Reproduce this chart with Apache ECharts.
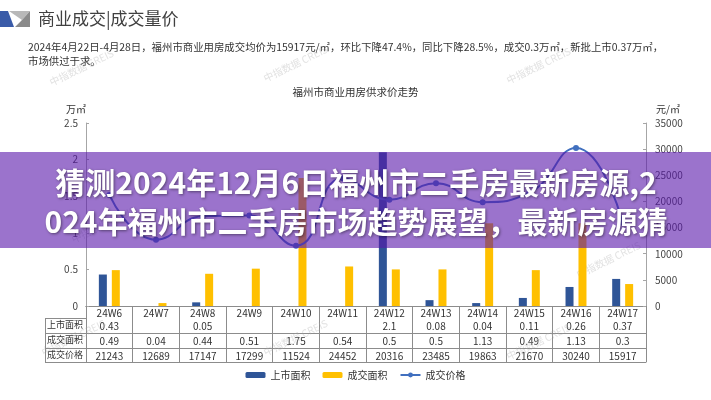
<!DOCTYPE html>
<html><head><meta charset="utf-8">
<script src="https://cdn.jsdelivr.net/npm/echarts@6/dist/echarts.min.js"></script>
<style>html,body{margin:0;padding:0;background:#fff}#c{width:711px;height:400px}</style>
</head><body><div id="c"></div>
<script>
var categories = ['24W6','24W7','24W8','24W9','24W10','24W11','24W12','24W13','24W14','24W15','24W16','24W17'];
var listedArea = [0.43, null, 0.05, null, null, null, 2.1, 0.08, 0.04, 0.11, 0.26, 0.37];
var dealArea = [0.49, 0.04, 0.44, 0.51, 1.75, 0.54, 0.5, 0.5, 1.13, 0.49, 1.13, 0.3];
var dealPrice = [21243, 12689, 17147, 17299, 11524, 24452, 20316, 23485, 19863, 21670, 30240, 15917];
var leftTicks = [0, 0.5, 1, 1.5, 2, 2.5];
var rightTicks = [0, 5000, 10000, 15000, 20000, 25000, 30000, 35000];
var seriesNames = ['上市面积', '成交面积', '成交价格'];

var FONT = '"Noto Sans CJK SC", "Noto Sans", sans-serif';
var lineC = '#8c8c8c';
var chart = echarts.init(document.getElementById('c'), null, {renderer: 'canvas'});

function rowAxis(offset, arr, showLabel) {
  return {
    type: 'category', data: categories, position: 'bottom', offset: offset, gridIndex: 0,
    axisLine: {show: true, lineStyle: {color: lineC, width: 1}},
    axisTick: {show: false},
    axisLabel: {show: showLabel, interval: 0, margin: 3, fontSize: 10, color: '#333', fontFamily: FONT,
      formatter: function (v, i) { var x = arr ? arr[i] : null; return (x === null || x === undefined) ? '' : String(x); }},
    splitLine: {show: false}
  };
}

var wm = [];
[[48,48],[262,44],[505,46],[40,318],[262,318],[505,322],[70,205],[575,240]].forEach(function (p) {
  wm.push({type: 'text', left: p[0], top: p[1], rotation: 0.45, z: 1, silent: true,
    style: {text: '中指数据 CREIS', fill: 'rgba(170,170,170,0.35)', font: '10px ' + FONT}});
});

var option = {
  animation: false,
  textStyle: {fontFamily: FONT},
  title: {text: '福州市商业用房供求价走势', left: 'center', top: 82,
    textStyle: {fontSize: 10.5, fontWeight: 'normal', color: '#333', fontFamily: FONT}},
  legend: {
    data: seriesNames, bottom: 15, left: 'center', itemWidth: 20, itemHeight: 6, itemGap: 12,
    textStyle: {fontSize: 10, color: '#333', fontFamily: FONT}
  },
  grid: {left: 86, right: 65, top: 123, bottom: 94},
  xAxis: [
    {
      type: 'category', data: categories, position: 'bottom', gridIndex: 0,
      axisLine: {show: true, lineStyle: {color: lineC, width: 1}},
      axisTick: {show: true, interval: 0, alignWithLabel: false, length: 56, lineStyle: {color: lineC, width: 1}},
      axisLabel: {interval: 0, margin: 2, fontSize: 10, color: '#333', fontFamily: FONT},
      splitLine: {show: false}
    },
    rowAxis(12, listedArea, true),
    rowAxis(27, dealArea, true),
    rowAxis(42, dealPrice, true),
    rowAxis(56, null, false)
  ],
  yAxis: [
    {
      type: 'value', min: leftTicks[0], max: leftTicks[leftTicks.length - 1], interval: 0.5,
      name: '万㎡', nameLocation: 'end', nameGap: 9, nameTextStyle: {fontSize: 10, color: '#333', align: 'right'},
      axisLine: {show: true, lineStyle: {color: '#a6a6a6'}},
      axisTick: {show: true, inside: true, length: 3, lineStyle: {color: '#a6a6a6'}},
      axisLabel: {fontSize: 10, color: '#444', margin: 8},
      splitLine: {show: false}
    },
    {
      type: 'value', min: rightTicks[0], max: rightTicks[rightTicks.length - 1], interval: 5000,
      name: '元/㎡', nameLocation: 'end', nameGap: 9, nameTextStyle: {fontSize: 10, color: '#333', align: 'left', padding: [0, 0, 0, 10]},
      axisLine: {show: true, lineStyle: {color: '#a6a6a6'}},
      axisTick: {show: true, inside: true, length: 3, lineStyle: {color: '#a6a6a6'}},
      axisLabel: {fontSize: 10, color: '#444', margin: 9, formatter: function (v) { return String(v); }},
      splitLine: {show: false}
    }
  ],
  series: [
    {name: seriesNames[0], type: 'bar', data: listedArea, yAxisIndex: 0, barWidth: 8, barGap: '62%',
      itemStyle: {color: '#2f5597'}},
    {name: seriesNames[1], type: 'bar', data: dealArea, yAxisIndex: 0, barWidth: 8,
      itemStyle: {color: '#ffc000'}},
    {name: seriesNames[2], type: 'line', data: dealPrice, yAxisIndex: 1, smooth: true,
      symbol: 'circle', symbolSize: 6, lineStyle: {color: '#4170bf', width: 2},
      itemStyle: {color: '#4170bf'}}
  ],
  graphic: wm.concat([
    {type: 'polygon', z: 5, shape: {points: [[0, 11], [8, 11], [14, 27], [0, 27]]}, style: {fill: '#3a5ba8'}},
    {type: 'polygon', z: 5, shape: {points: [[9, 11], [30, 11], [22, 20]]}, style: {fill: '#b8b8b8'}},
    {type: 'polygon', z: 5, shape: {points: [[22, 20], [30, 11], [30, 27], [15, 27]]}, style: {fill: '#8a8a8a'}},
    {type: 'text', z: 5, left: 38, top: 10, style: {text: '商业成交|成交量价', fill: '#404040', font: '17px ' + FONT}},
    {type: 'text', z: 5, left: 28, top: 42, style: {text: '2024年4月22日-4月28日，福州市商业用房成交均价为15917元/㎡，环比下降47.4%，同比下降28.5%，成交0.3万㎡，新批上市0.37万㎡，', fill: '#333', font: '10.4px ' + FONT}},
    {type: 'text', z: 5, left: 28, top: 56, style: {text: '市场供过于求。', fill: '#333', font: '10.4px ' + FONT}},
    {type: 'line', z: 5, shape: {x1: 45, y1: 318.5, x2: 86, y2: 318.5}, style: {stroke: lineC, lineWidth: 1}},
    {type: 'line', z: 5, shape: {x1: 45, y1: 333.5, x2: 86, y2: 333.5}, style: {stroke: lineC, lineWidth: 1}},
    {type: 'line', z: 5, shape: {x1: 45, y1: 348.5, x2: 86, y2: 348.5}, style: {stroke: lineC, lineWidth: 1}},
    {type: 'line', z: 5, shape: {x1: 45, y1: 362.5, x2: 86, y2: 362.5}, style: {stroke: lineC, lineWidth: 1}},
    {type: 'line', z: 5, shape: {x1: 45.5, y1: 318, x2: 45.5, y2: 363}, style: {stroke: lineC, lineWidth: 1}},
    {type: 'text', z: 5, left: 47, top: 320, style: {text: '上市面积', fill: '#333', font: '9px ' + FONT}},
    {type: 'text', z: 5, left: 47, top: 335, style: {text: '成交面积', fill: '#333', font: '9px ' + FONT}},
    {type: 'text', z: 5, left: 47, top: 350, style: {text: '成交价格', fill: '#333', font: '9px ' + FONT}},
    {type: 'rect', z: 100, shape: {x: 0, y: 152, width: 711, height: 96}, style: {fill: 'rgba(88,22,170,0.6)'}},
    {type: 'text', z: 101, x: 356, y: 183, style: {text: '猜测2024年12月6日福州市二手房最新房源,2', fill: '#fff',
      font: 'bold 30px ' + FONT, textAlign: 'center', textVerticalAlign: 'middle',
      textShadowColor: 'rgba(0,0,0,0.45)', textShadowBlur: 3, textShadowOffsetX: 1, textShadowOffsetY: 1}},
    {type: 'text', z: 101, x: 356, y: 222, style: {text: '024年福州市二手房市场趋势展望，最新房源猜', fill: '#fff',
      font: 'bold 30px ' + FONT, textAlign: 'center', textVerticalAlign: 'middle',
      textShadowColor: 'rgba(0,0,0,0.45)', textShadowBlur: 3, textShadowOffsetX: 1, textShadowOffsetY: 1}}
  ])
};
chart.setOption(option);
</script></body></html>
